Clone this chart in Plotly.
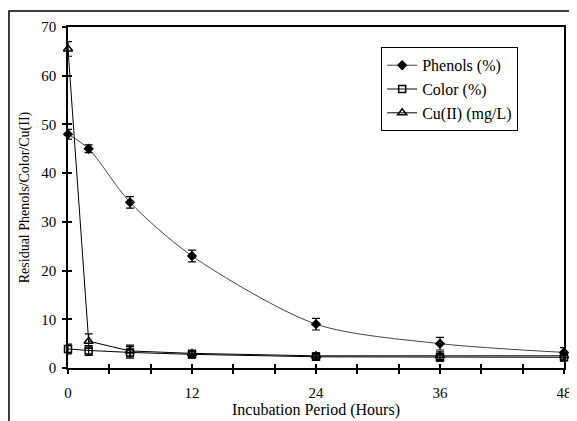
import plotly.graph_objects as go

hours = [0, 2, 6, 12, 24, 36, 48]
phenols = [48, 45, 34, 23, 9, 5, 3.2]
phenols_err = [1, 0.8, 1.2, 1.2, 1.2, 1.3, 1]
color = [3.9, 3.6, 3.2, 2.8, 2.3, 2.2, 2.2]
color_err = [1, 1, 1.2, 0.8, 0.6, 0.8, 0.8]
cu = [65.5, 5.5, 3.5, 3.0, 2.5, 2.5, 2.5]
cu_err = [1.5, 1.5, 1.2, 0.6, 0.6, 0.8, 0.8]

x_tickvals = [0, 12, 24, 36, 48]
y_tickvals = [0, 10, 20, 30, 40, 50, 60, 70]

FONT = "Liberation Serif"

fig = go.Figure()
fig.add_trace(go.Scatter(
    x=hours, y=phenols, name="Phenols (%)", mode="lines+markers",
    line=dict(color="#444", width=1, shape="spline", smoothing=0.8),
    marker=dict(symbol="diamond", size=8, color="black"),
    error_y=dict(type="data", array=phenols_err, color="black", thickness=1.2, width=4),
    cliponaxis=False))
fig.add_trace(go.Scatter(
    x=hours, y=color, name="Color (%)", mode="lines+markers",
    line=dict(color="black", width=1),
    marker=dict(symbol="square-open", size=7, color="black", line=dict(width=1.5)),
    error_y=dict(type="data", array=color_err, color="black", thickness=1.2, width=4),
    cliponaxis=False))
fig.add_trace(go.Scatter(
    x=hours, y=cu, name="Cu(II) (mg/L)", mode="lines+markers",
    line=dict(color="black", width=1),
    marker=dict(symbol="triangle-up-open", size=8, color="black", line=dict(width=1.5)),
    error_y=dict(type="data", array=cu_err, color="black", thickness=1.2, width=4),
    cliponaxis=False))
# helper trace for the inside-tick overlay axes
fig.add_trace(go.Scatter(x=[None], y=[None], xaxis="x2", yaxis="y2",
                         showlegend=False, hoverinfo="skip"))

tick_common = dict(showgrid=False, zeroline=False, tickcolor="black", tickwidth=1.5,
                   automargin=False)

fig.update_layout(
    width=569, height=413,
    margin=dict(l=60, r=13, t=19, b=53),
    paper_bgcolor="white", plot_bgcolor="white",
    font=dict(family=FONT, size=14, color="black"),
    showlegend=True,
    legend=dict(x=0.631, y=0.941, xanchor="left", yanchor="top",
                bordercolor="black", borderwidth=1.2, bgcolor="white",
                font=dict(family=FONT, size=16), tracegroupgap=0,
                itemwidth=30),
    xaxis=dict(range=[0, 48], tickmode="array", tickvals=x_tickvals,
               ticks="outside", ticklen=4, mirror=True, showline=True,
               linecolor="black", linewidth=1.5, ticklabelstandoff=6,
               minor=dict(dtick=4, ticks="outside", ticklen=4, tickcolor="black", tickwidth=1.5),
               title=dict(text="Incubation Period (Hours)", standoff=2,
                          font=dict(family=FONT, size=16)),
               tickfont=dict(family=FONT, size=15), **tick_common),
    yaxis=dict(range=[0, 70], tickmode="array", tickvals=y_tickvals,
               ticks="outside", ticklen=4, mirror=True, showline=True,
               linecolor="black", linewidth=1.5, ticklabelstandoff=3,
               title=dict(text="Residual Phenols/Color/Cu(II)", standoff=8,
                          font=dict(family=FONT, size=14)),
               tickfont=dict(family=FONT, size=15), **tick_common),
    xaxis2=dict(range=[0, 48], overlaying="x", side="bottom", tickmode="array",
                tickvals=x_tickvals, ticks="inside", ticklen=4, showticklabels=False,
                minor=dict(dtick=4, ticks="inside", ticklen=4, tickcolor="black", tickwidth=1.5),
                showline=False, **tick_common),
    yaxis2=dict(range=[0, 70], overlaying="y", side="left", tickmode="array",
                tickvals=y_tickvals, ticks="inside", ticklen=4, showticklabels=False,
                showline=False, **tick_common),
    shapes=[dict(type="rect", xref="paper", yref="paper",
                 x0=-0.119, x1=1.3, y0=-0.4, y1=1.047,
                 line=dict(color="black", width=1.5), layer="below")],
)

fig.write_html("out.html")
